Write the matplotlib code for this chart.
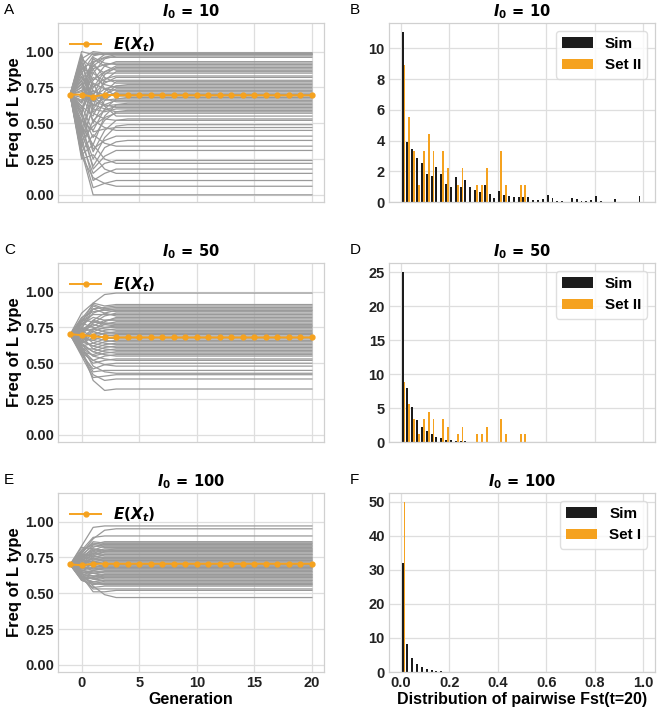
import numpy as np
import matplotlib
matplotlib.use('Agg')
import matplotlib.pyplot as plt

plt.rcParams['font.family'] = ['Liberation Sans', 'DejaVu Sans']
plt.rcParams['font.weight'] = 'bold'
plt.rcParams['mathtext.fontset'] = 'custom'
plt.rcParams['mathtext.it'] = 'DejaVu Sans:italic:bold'
plt.rcParams['mathtext.rm'] = 'DejaVu Sans:bold'
plt.rcParams['mathtext.bf'] = 'DejaVu Sans:bold'

# ---------------- data ----------------
gens = list(range(-1, 21))
start_freq = 0.70

# trajectories: values at generation 0,1,2,3 then the plateau value kept to gen 20
a_early = [
    [0.95, 1.00, 0.99, 0.99], [0.85, 0.97, 0.99, 0.99], [0.80, 0.92, 0.98, 0.99],
    [1.00, 0.98, 0.98, 0.98], [0.75, 0.90, 0.96, 0.98], [0.90, 0.99, 0.98, 0.98],
    [0.65, 0.85, 0.95, 0.97], [0.88, 0.93, 0.96, 0.96], [0.60, 0.80, 0.90, 0.93],
    [0.95, 0.88, 0.91, 0.92], [0.72, 0.96, 0.92, 0.91], [0.50, 0.75, 0.86, 0.90],
    [0.82, 0.70, 0.84, 0.89], [0.92, 0.80, 0.86, 0.88], [0.55, 0.95, 0.90, 0.87],
    [0.78, 0.62, 0.80, 0.86], [0.70, 0.90, 0.85, 0.85], [0.98, 0.75, 0.81, 0.83],
    [0.45, 0.70, 0.78, 0.82], [0.88, 0.85, 0.79, 0.80], [0.62, 0.55, 0.72, 0.79],
    [0.75, 0.92, 0.82, 0.78], [0.40, 0.60, 0.70, 0.76], [0.85, 0.68, 0.74, 0.76],
    [0.68, 0.82, 0.77, 0.75], [0.93, 0.65, 0.70, 0.74], [0.58, 0.78, 0.74, 0.73],
    [0.80, 0.50, 0.66, 0.72], [0.35, 0.62, 0.68, 0.71], [0.90, 0.72, 0.70, 0.70],
    [0.66, 0.88, 0.74, 0.69], [0.52, 0.45, 0.60, 0.67], [0.77, 0.70, 0.66, 0.67],
    [0.97, 0.58, 0.63, 0.66], [0.60, 0.73, 0.67, 0.65], [0.48, 0.35, 0.55, 0.63],
    [0.83, 0.66, 0.62, 0.63], [0.70, 0.52, 0.59, 0.62], [0.42, 0.68, 0.63, 0.61],
    [0.87, 0.60, 0.58, 0.60], [0.57, 0.40, 0.52, 0.58], [0.73, 0.63, 0.60, 0.58],
    [0.38, 0.48, 0.54, 0.57], [0.64, 0.78, 0.62, 0.55], [0.55, 0.30, 0.45, 0.52],
    [0.80, 0.57, 0.53, 0.52], [0.47, 0.25, 0.40, 0.48], [0.62, 0.44, 0.46, 0.47],
    [0.33, 0.52, 0.47, 0.45], [0.58, 0.32, 0.38, 0.41], [0.44, 0.20, 0.33, 0.37],
    [0.30, 0.42, 0.36, 0.34], [0.50, 0.18, 0.27, 0.31], [0.36, 0.15, 0.22, 0.24],
    [0.28, 0.35, 0.25, 0.22], [0.40, 0.10, 0.15, 0.18], [0.25, 0.28, 0.18, 0.15],
    [0.32, 0.05, 0.08, 0.10], [0.27, 0.12, 0.08, 0.06], [0.30, 0.00, 0.00, 0.00],
]
a_final = [0.99, 0.99, 0.99, 0.98, 0.98, 0.98, 0.97, 0.96, 0.93, 0.92, 0.91, 0.90,
           0.89, 0.88, 0.87, 0.86, 0.85, 0.83, 0.82, 0.80, 0.79, 0.78, 0.77, 0.76,
           0.75, 0.74, 0.73, 0.72, 0.71, 0.70, 0.69, 0.68, 0.67, 0.66, 0.65, 0.64,
           0.63, 0.62, 0.61, 0.60, 0.59, 0.58, 0.57, 0.55, 0.53, 0.52, 0.49, 0.47,
           0.45, 0.41, 0.38, 0.34, 0.31, 0.24, 0.22, 0.18, 0.15, 0.10, 0.06, 0.00]
a_mean = [0.70, 0.70, 0.685, 0.70, 0.695, 0.695, 0.695, 0.695, 0.695, 0.695, 0.695,
          0.695, 0.695, 0.695, 0.695, 0.695, 0.695, 0.695, 0.695, 0.695, 0.695, 0.695]

c_early = [
    [0.85, 0.92, 0.98, 0.99], [0.78, 0.92, 0.90, 0.91], [0.80, 0.88, 0.89, 0.90],
    [0.75, 0.85, 0.88, 0.89], [0.82, 0.86, 0.87, 0.88], [0.72, 0.80, 0.85, 0.87],
    [0.76, 0.90, 0.87, 0.86], [0.70, 0.78, 0.83, 0.85], [0.79, 0.84, 0.84, 0.84],
    [0.74, 0.88, 0.85, 0.83], [0.73, 0.76, 0.80, 0.81], [0.77, 0.82, 0.80, 0.80],
    [0.68, 0.74, 0.77, 0.79], [0.80, 0.79, 0.78, 0.78], [0.71, 0.80, 0.78, 0.77],
    [0.66, 0.72, 0.75, 0.76], [0.74, 0.77, 0.75, 0.75], [0.69, 0.70, 0.73, 0.74],
    [0.78, 0.75, 0.74, 0.73], [0.64, 0.68, 0.71, 0.72], [0.72, 0.74, 0.72, 0.71],
    [0.67, 0.66, 0.69, 0.70], [0.75, 0.72, 0.70, 0.69], [0.62, 0.64, 0.67, 0.68],
    [0.70, 0.69, 0.68, 0.67], [0.65, 0.62, 0.65, 0.66], [0.73, 0.68, 0.66, 0.65],
    [0.60, 0.60, 0.63, 0.64], [0.68, 0.66, 0.64, 0.63], [0.63, 0.58, 0.61, 0.62],
    [0.71, 0.64, 0.62, 0.61], [0.58, 0.56, 0.59, 0.60], [0.66, 0.62, 0.60, 0.59],
    [0.61, 0.55, 0.57, 0.58], [0.69, 0.60, 0.58, 0.57], [0.57, 0.52, 0.55, 0.56],
    [0.64, 0.58, 0.56, 0.55], [0.59, 0.50, 0.52, 0.53], [0.63, 0.55, 0.53, 0.52],
    [0.56, 0.46, 0.49, 0.50], [0.60, 0.52, 0.49, 0.48], [0.58, 0.44, 0.45, 0.45],
    [0.62, 0.48, 0.44, 0.43], [0.55, 0.40, 0.41, 0.42], [0.57, 0.42, 0.38, 0.39],
    [0.60, 0.38, 0.31, 0.32], [0.81, 0.91, 0.88, 0.87], [0.67, 0.73, 0.79, 0.82],
    [0.73, 0.79, 0.77, 0.76], [0.65, 0.70, 0.71, 0.71],
]
c_final = [0.99, 0.91, 0.90, 0.89, 0.88, 0.87, 0.86, 0.85, 0.84, 0.83, 0.81, 0.80,
           0.79, 0.78, 0.77, 0.76, 0.75, 0.74, 0.73, 0.72, 0.71, 0.70, 0.69, 0.68,
           0.67, 0.66, 0.65, 0.64, 0.63, 0.62, 0.61, 0.60, 0.59, 0.58, 0.57, 0.56,
           0.55, 0.53, 0.52, 0.50, 0.48, 0.45, 0.43, 0.42, 0.39, 0.32, 0.87, 0.82,
           0.76, 0.71]
c_mean = [0.703, 0.696, 0.689, 0.68, 0.68, 0.68, 0.68, 0.68, 0.68, 0.68, 0.68,
          0.68, 0.68, 0.68, 0.68, 0.68, 0.68, 0.68, 0.68, 0.68, 0.68, 0.68]

e_early = [
    [0.83, 0.96, 0.97, 0.97], [0.78, 0.88, 0.94, 0.95], [0.80, 0.89, 0.90, 0.90],
    [0.76, 0.84, 0.86, 0.86], [0.74, 0.82, 0.85, 0.85], [0.79, 0.85, 0.84, 0.84],
    [0.72, 0.80, 0.83, 0.83], [0.77, 0.83, 0.82, 0.82], [0.70, 0.78, 0.80, 0.81],
    [0.75, 0.81, 0.80, 0.80], [0.73, 0.77, 0.79, 0.79], [0.76, 0.80, 0.78, 0.78],
    [0.69, 0.75, 0.77, 0.77], [0.74, 0.78, 0.76, 0.76], [0.71, 0.74, 0.75, 0.75],
    [0.73, 0.76, 0.74, 0.74], [0.68, 0.72, 0.73, 0.73], [0.72, 0.74, 0.72, 0.72],
    [0.67, 0.70, 0.71, 0.71], [0.71, 0.72, 0.70, 0.70], [0.66, 0.68, 0.69, 0.69],
    [0.70, 0.69, 0.68, 0.68], [0.64, 0.66, 0.67, 0.67], [0.69, 0.67, 0.66, 0.66],
    [0.63, 0.64, 0.65, 0.65], [0.68, 0.66, 0.64, 0.64], [0.62, 0.62, 0.63, 0.63],
    [0.66, 0.64, 0.62, 0.62], [0.61, 0.60, 0.61, 0.61], [0.65, 0.62, 0.60, 0.60],
    [0.60, 0.58, 0.59, 0.59], [0.64, 0.60, 0.58, 0.58], [0.59, 0.56, 0.57, 0.57],
    [0.62, 0.57, 0.56, 0.56], [0.60, 0.54, 0.55, 0.55], [0.61, 0.53, 0.53, 0.53],
    [0.62, 0.51, 0.51, 0.52], [0.64, 0.55, 0.49, 0.47], [0.80, 0.84, 0.83, 0.83],
    [0.75, 0.79, 0.81, 0.81], [0.82, 0.81, 0.79, 0.79], [0.75, 0.78, 0.77, 0.77],
    [0.77, 0.76, 0.75, 0.75], [0.74, 0.74, 0.73, 0.73], [0.73, 0.72, 0.71, 0.71],
    [0.71, 0.70, 0.69, 0.69], [0.67, 0.68, 0.67, 0.67], [0.66, 0.65, 0.65, 0.65],
    [0.65, 0.64, 0.63, 0.63], [0.63, 0.62, 0.61, 0.61], [0.62, 0.60, 0.59, 0.59],
    [0.61, 0.58, 0.57, 0.57], [0.78, 0.86, 0.85, 0.85], [0.69, 0.76, 0.79, 0.80],
    [0.70, 0.73, 0.74, 0.74], [0.68, 0.67, 0.68, 0.68], [0.60, 0.61, 0.62, 0.62],
    [0.59, 0.57, 0.56, 0.56],
]
e_final = [0.97, 0.95, 0.90, 0.86, 0.85, 0.84, 0.83, 0.82, 0.81, 0.80, 0.79, 0.78,
           0.77, 0.76, 0.75, 0.74, 0.73, 0.72, 0.71, 0.70, 0.69, 0.68, 0.67, 0.66,
           0.65, 0.64, 0.63, 0.62, 0.61, 0.60, 0.59, 0.58, 0.57, 0.56, 0.55, 0.53,
           0.52, 0.47, 0.83, 0.81, 0.79, 0.77, 0.75, 0.73, 0.71, 0.69, 0.67, 0.65,
           0.63, 0.61, 0.59, 0.57, 0.85, 0.80, 0.74, 0.68, 0.62, 0.56]
e_mean = [0.701, 0.696, 0.706, 0.706, 0.706, 0.706, 0.706, 0.706, 0.706, 0.706, 0.706,
          0.706, 0.706, 0.706, 0.706, 0.706, 0.706, 0.706, 0.706, 0.706, 0.706, 0.706]

# histogram densities of pairwise Fst, 50 bins on [0, 1]
b_sim = [11.1, 3.93, 3.46, 2.87, 2.54, 1.82, 1.71, 2.28, 1.82, 1.14, 0.99, 1.62,
         1.0, 1.45, 0.95, 0.8, 0.65, 1.1, 0.55, 0.25, 0.7, 0.46, 0.4, 0.35, 0.35,
         0.35, 0.33, 0.13, 0.15, 0.17, 0.46, 0.25, 0.05, 0.08, 0.02, 0.25, 0.2,
         0.05, 0.05, 0.1, 0.4, 0.05, 0.03, 0.0, 0.2, 0.0, 0.0, 0.0, 0.0, 0.4]
set2 = [8.89, 5.56, 3.33, 1.11, 3.33, 4.44, 3.33, 0.0, 3.33, 2.22, 0.0, 1.11,
        2.22, 0.0, 0.0, 1.11, 1.11, 2.22, 0.0, 0.0, 3.33, 1.11, 0.0, 0.0, 1.11,
        1.11] + [0.0] * 24
d_sim = [25.1, 7.9, 5.1, 3.3, 2.15, 1.65, 1.2, 0.75, 0.55, 0.35, 0.25, 0.2, 0.15,
         0.1, 0.05, 0.03] + [0.0] * 34
f_sim = [31.9, 8.3, 4.1, 2.2, 1.4, 0.9, 0.6, 0.4, 0.2, 0.1] + [0.0] * 40
set1 = [50.0] + [0.0] * 49

titles = [r'$I_0\,=\,10$', r'$I_0\,=\,50$', r'$I_0\,=\,100$']
hist_labels = ['Set II', 'Set II', 'Set I']

# ---------------- figure ----------------
orange = '#f5a21f'
black = '#1c1c1c'
gray = '#9a9a9a'
grid_c = '#dedede'

fig = plt.figure(figsize=(6.61, 7.12), dpi=100)
bottoms = [1 - 202 / 712, 1 - 442 / 712, 1 - 672 / 712]
h = 179 / 712
w = 266 / 661
lefts = [58 / 661, 389 / 661]


def style(ax):
    ax.set_facecolor('white')
    ax.grid(True, color=grid_c, lw=0.9)
    ax.set_axisbelow(True)
    for s in ax.spines.values():
        s.set_color('#d0d0d0')
        s.set_linewidth(0.9)
    ax.tick_params(length=0, labelsize=10.5, colors='#222222', pad=3)
    for lab in ax.get_xticklabels() + ax.get_yticklabels():
        lab.set_fontweight('bold')


edges = np.linspace(0, 1, 51)
bw = edges[1] - edges[0]
centers = edges[:-1] + bw / 2

traj_sets = [(a_early, a_final, a_mean), (c_early, c_final, c_mean), (e_early, e_final, e_mean)]
hist_sets = [(b_sim, set2), (d_sim, set2), (f_sim, set1)]
letters = [('A', 'B'), ('C', 'D'), ('E', 'F')]

for r in range(3):
    # left: trajectories
    ax = fig.add_axes([lefts[0], bottoms[r], w, h])
    early, final, mean = traj_sets[r]
    for e, f in zip(early, final):
        y = [start_freq] + e + [f] * (len(gens) - 1 - len(e))
        ax.plot(gens, y, color=gray, lw=0.9, zorder=2)
    ax.plot(gens, mean, color=orange, lw=1.4, marker='o', ms=3.5, zorder=3,
            label=r'$E(X_t)$')
    ax.set_xlim(-2.05, 21.05)
    ax.set_ylim(-0.05, 1.2)
    ax.set_xticks([0, 5, 10, 15, 20])
    ax.set_yticks([0, 0.25, 0.5, 0.75, 1.0])
    ax.set_yticklabels(['0.00', '0.25', '0.50', '0.75', '1.00'])
    style(ax)
    if r < 2:
        ax.tick_params(labelbottom=False)
    else:
        ax.set_xlabel('Generation', fontsize=11.5, fontweight='bold', labelpad=1)
    ax.set_ylabel('Freq of L type', fontsize=12, fontweight='bold', labelpad=2)
    ax.set_title(titles[r], fontsize=10.5, pad=5)
    ax.legend(loc='upper left', frameon=False, fontsize=11, handlelength=2.0,
              borderaxespad=0.4)
    fig.text(0.006, bottoms[r] + h + 0.008, letters[r][0], fontsize=11,
             fontweight='normal', va='bottom')

    # right: histograms
    ax2 = fig.add_axes([lefts[1], bottoms[r], w, h])
    sim, other = hist_sets[r]
    ax2.bar(centers - 0.2 * bw, sim, width=0.4 * bw, color=black, label='Sim', zorder=2)
    ax2.bar(centers + 0.2 * bw, other, width=0.4 * bw, color=orange,
            label=hist_labels[r], zorder=2)
    ax2.set_xlim(-0.05, 1.05)
    ax2.set_xticks([0, 0.2, 0.4, 0.6, 0.8, 1.0])
    style(ax2)
    if r < 2:
        ax2.tick_params(labelbottom=False)
    else:
        ax2.set_xticklabels(['0.0', '0.2', '0.4', '0.6', '0.8', '1.0'])
        ax2.set_xlabel('Distribution of pairwise Fst(t=20)', fontsize=11.5,
                       fontweight='bold', labelpad=1)
    ax2.set_title(titles[r], fontsize=10.5, pad=5)
    leg = ax2.legend(loc='upper right', fontsize=11, frameon=True, fancybox=True,
                     borderaxespad=0.5)
    leg.get_frame().set_edgecolor('#d8d8d8')
    fig.text(lefts[1] - 0.06, bottoms[r] + h + 0.008, letters[r][1], fontsize=11,
             fontweight='normal', va='bottom')

fig.savefig('out.png', dpi=100)
